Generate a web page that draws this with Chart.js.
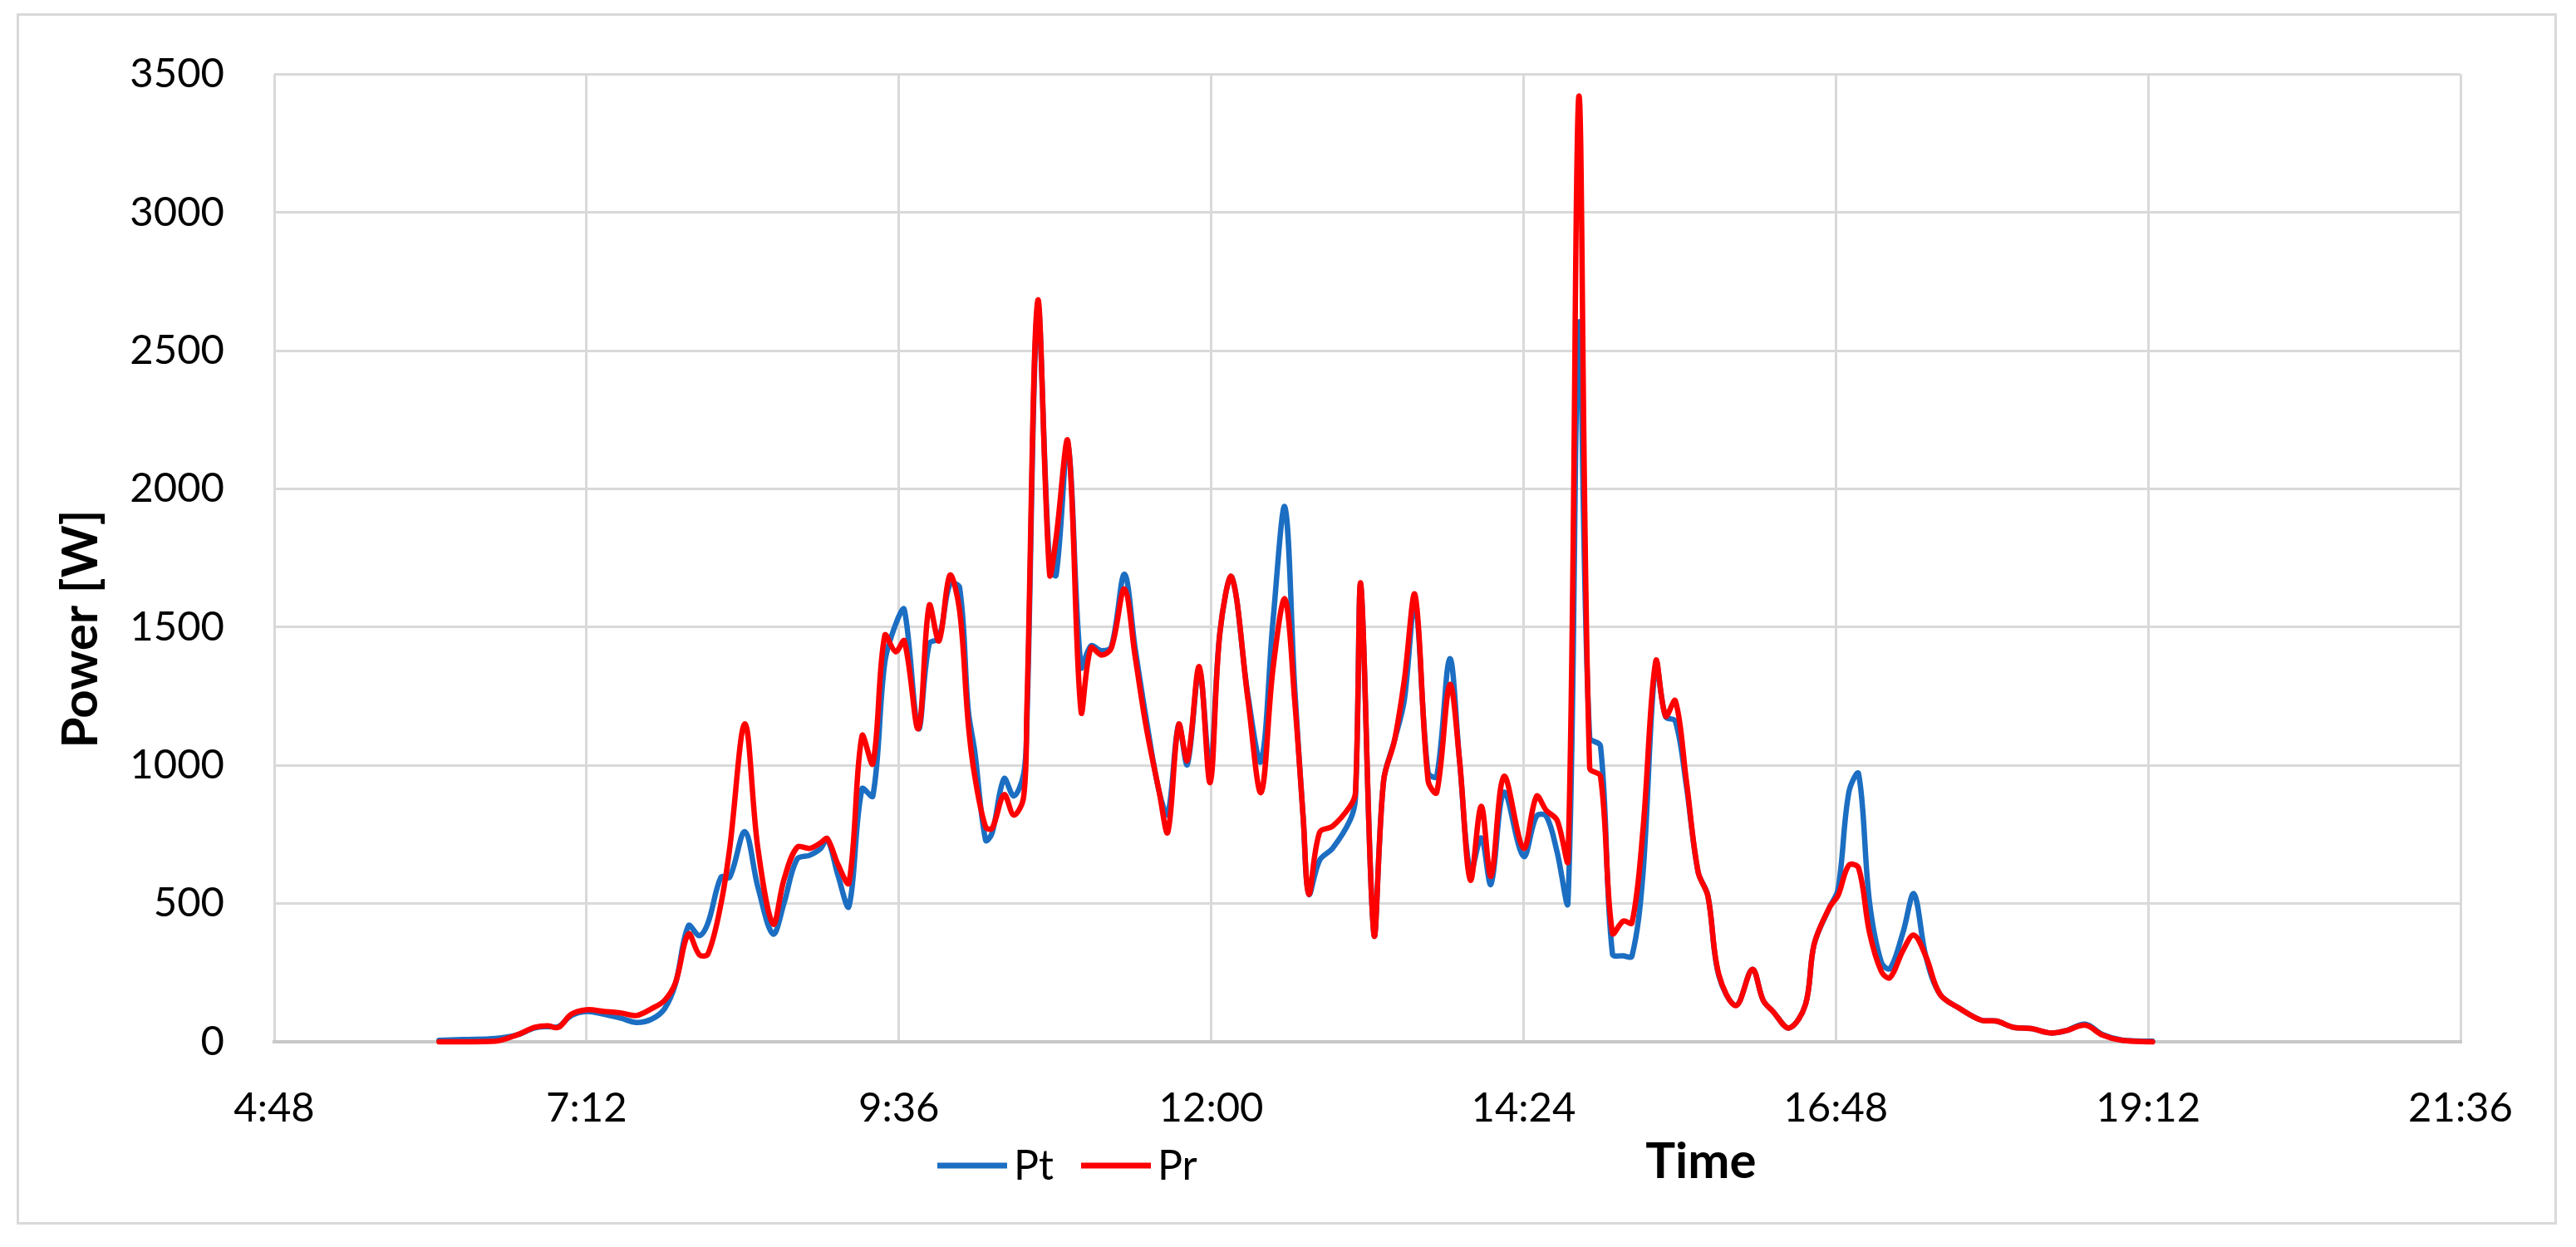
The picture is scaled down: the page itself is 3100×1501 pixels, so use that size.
<!DOCTYPE html>
<html>
<head>
<meta charset="utf-8">
<title>Pt / Pr power</title>
<script src="https://cdn.jsdelivr.net/npm/chart.js@4.4.1/dist/chart.umd.min.js"></script>
<style>
  html,body{margin:0;padding:0;background:#fff;}
  #wrap{position:relative;width:3100px;height:1501px;}
  #frame{position:absolute;left:20px;top:16px;width:3057px;height:1458px;border:3px solid #d9d9d9;box-sizing:border-box;pointer-events:none;}
</style>
</head>
<body>
<div id="wrap"><canvas id="powerChart" width="3100" height="1501"></canvas><div id="frame"></div></div>
<script>
// time of day, minutes after midnight
const times = [364,375,390,400,408,414,419,425,432,440,448,455,462,468,473,479,484,488,494,498,
  505,511,518,523,529,535,540,543,548,553,559,564,569.5,574.5,578.5,585,590,594.5,599.5,604,
  608,611,616,619,624.5,629,633.5,635,640,645.5,648.5,654,660,664.5,669.5,674,680,685,690,696,
  700,705,709,714.5,719.5,724,729.5,737,743,748.5,754,758.5,762.5,765,770,776,784,786.5,789,795,
  799.5,804.5,809,814,820,824,830,834.5,839.5,844.5,849,855,864,870,874.5,879.5,884.5,889.5,894.5,899.5,
  905,910,914,919,925,929.5,934,939,944.5,949,954,962,969.5,974.5,979,986.5,994,998,1005,1009,
  1014,1018.5,1023.5,1029,1033,1039,1044,1049.5,1056,1065,1075,1082,1090,1098,1107,1114,1123,1131,1140,1154];

const pt = [5,8,12,25,50,55,55,95,110,100,85,70,82,120,210,420,384,430,596,595,
  760,560,390,500,660,675,700,735,600,490,915,889,1372,1510,1564,1133,1440,1460,1655,1643,
  1200,1050,729,756,952,889,968,1150,2660,1720,1688,2160,1355,1432,1415,1430,1691,1420,1170,905,
  823,1148,1003,1345,988,1479,1681,1250,1015,1523,1934,1280,801,534,657,700,801,880,1650,390,
  945,1090,1234,1590,974,960,1386,1018,614,737,570,902,671,816,816,686,506,2600,1101,1070,
  318,311,310,600,1372,1176,1160,930,614,529,240,132,262,150,110,50,135,353,485,551,
  903,969,507,287,265,397,535,309,172,121,78,75,52,48,32,40,64,26,6,2];

const pr = [0,0,2,25,52,58,52,100,116,110,104,95,120,150,214,390,315,318,500,700,
  1150,700,426,586,703,700,720,735,640,575,1107,1006,1470,1411,1450,1133,1579,1450,1688,1560,
  1150,960,777,772,894,820,884,1200,2680,1691,1824,2170,1195,1425,1399,1425,1638,1390,1140,905,
  758,1148,1018,1357,938,1479,1681,1234,902,1350,1602,1234,801,534,758,780,852,900,1655,390,
  945,1090,1306,1616,945,902,1292,1018,585,852,599,960,700,888,837,801,657,3420,991,960,
  393,437,430,760,1377,1178,1234,950,614,527,245,131,262,150,110,50,135,353,485,529,
  639,629,396,254,232,331,386,309,172,121,78,75,52,48,32,40,60,24,5,0];

const xTickMins = [288,432,576,720,864,1008,1152,1296];
const xTickLabels = ['4:48','7:12','9:36','12:00','14:24','16:48','19:12','21:36'];

const toPoints = vals => vals.map((v,i) => ({ x: times[i], y: v }));

// axis titles and legend sit where Excel put them, not where Chart.js would
const excelLabels = {
  id: 'excelLabels',
  afterDraw(chart){
    const ctx = chart.ctx;
    ctx.save();
    ctx.fillStyle = '#000';
    ctx.textBaseline = 'alphabetic';

    let x = 1128;
    ctx.font = '50px Lato';
    chart.data.datasets.forEach(ds => {
      ctx.strokeStyle = ds.borderColor; ctx.lineWidth = 7;
      ctx.beginPath(); ctx.moveTo(x, 1403); ctx.lineTo(x + 84, 1403); ctx.stroke();
      ctx.fillText(ds.label, x + 92, 1420);
      x += 173;
    });

    ctx.font = 'bold 60px Lato';
    ctx.textAlign = 'center';
    ctx.fillText('Time', 2047, 1418);

    ctx.translate(117, 757);
    ctx.rotate(-Math.PI / 2);
    ctx.fillText('Power [W]', 0, 0);
    ctx.restore();
  }
};

const gridStyle = { color: '#d9d9d9', lineWidth: 3, drawTicks: false };
const tickFont = { family: 'Lato', size: 49 };

new Chart(document.getElementById('powerChart'), {
  type: 'line',
  data: {
    datasets: [
      { label: 'Pt', data: toPoints(pt), borderColor: '#1b6ec2', borderWidth: 6.5, order: 1 },
      { label: 'Pr', data: toPoints(pr), borderColor: '#ff0000', borderWidth: 6.5, order: 0 }
    ]
  },
  options: {
    responsive: false,
    devicePixelRatio: 1,
    animation: false,
    parsing: false,
    elements: { point: { radius: 0 }, line: { tension: 0.35, borderCapStyle: 'round', borderJoinStyle: 'round' } },
    datasets: { line: { clip: false, fill: false } },
    layout: { padding: { left: 0, top: 78, right: 139, bottom: 97 } },
    plugins: { legend: { display: false }, tooltip: { enabled: false } },
    scales: {
      x: {
        type: 'linear', min: 288, max: 1296,
        afterBuildTicks: s => { s.ticks = xTickMins.map(v => ({ value: v })); },
        afterFit: s => { s.height = 150; },
        ticks: { callback: (v, i) => xTickLabels[i], font: tickFont, color: '#000', padding: 51, maxRotation: 0, autoSkip: false },
        grid: gridStyle,
        border: { display: true, color: '#c8c8c8', width: 4 }
      },
      y: {
        min: 0, max: 3500,
        afterFit: s => { s.width = 330; },
        ticks: { stepSize: 500, callback: v => String(v), font: tickFont, color: '#000', padding: 60 },
        grid: gridStyle,
        border: { display: false }
      }
    }
  },
  plugins: [excelLabels]
});
</script>
</body>
</html>
